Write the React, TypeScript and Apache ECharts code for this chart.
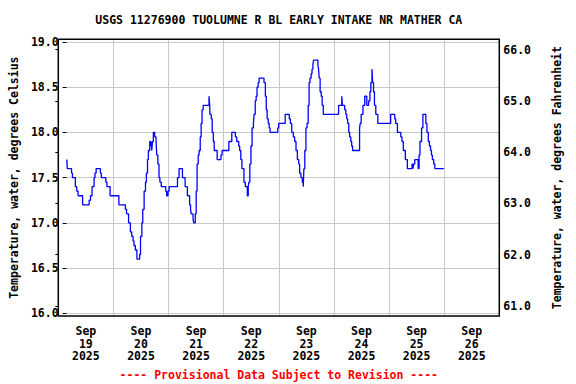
import React, { useEffect, useRef } from "react";
import * as echarts from "echarts";

// Hours since Sep 19 2025 00:00 at which the reading changes, and the reading (deg C)
const hours = [
  0.1, 0.3, 2.2, 2.6, 3.9, 4.5, 5.1, 7.1, 10.0, 10.6, 11.3, 12.2, 12.6, 13.1, 15.0, 15.4, 17.4, 17.9, 19.3, 23.2,
  26.1, 26.6, 27.5, 28.3, 28.9, 29.5, 29.9, 30.5, 31.2, 32.4, 32.8, 33.4, 33.8, 34.4, 35.0, 35.4, 35.9, 36.3, 36.9,
  37.3, 37.5, 37.8, 38.1, 38.5, 39.1, 39.7, 40.0, 40.5, 41.0, 41.4, 42.0, 44.0, 44.4, 45.0, 45.5, 49.2, 49.9, 51.4,
  52.6, 53.6, 54.6, 55.0, 55.3, 56.1, 56.4, 57.1, 57.5, 57.9, 58.4, 58.8, 59.3, 59.7, 60.1, 60.6, 63.2, 63.5, 63.6,
  64.2, 64.6, 65.1, 65.5, 66.8, 68.5, 69.0, 72.0, 73.3, 74.9, 75.5, 76.4, 76.8, 77.3, 77.8, 78.7, 79.3, 80.2, 80.6,
  80.9, 81.3, 81.8, 82.3, 82.9, 83.2, 83.7, 84.1, 84.5, 85.0, 85.4, 87.6, 88.2, 88.6, 89.0, 89.5, 89.9, 90.3, 93.7,
  94.1, 97.0, 98.8, 99.3, 99.9, 100.6, 101.2, 101.8, 102.4, 103.0, 103.4, 104.0, 104.6, 105.0, 105.3, 105.7, 106.2,
  106.7, 107.2, 107.6, 108.0, 108.5, 108.9, 109.3, 109.6, 111.5, 111.8, 112.1, 112.5, 113.0, 113.4, 113.9, 120.7,
  122.1, 122.4, 123.4, 123.9, 124.3, 124.7, 125.2, 125.6, 126.1, 126.5, 126.9, 130.0, 130.3, 130.7, 131.5, 132.3,
  133.2, 134.0, 134.6, 135.0, 135.5, 135.8, 136.2, 136.6, 137.2, 138.1, 143.8, 145.6, 146.0, 146.8, 148.3, 148.8,
  149.4, 150.3, 151.2, 153.3, 153.7, 154.0, 154.5, 156.0, 156.4, 156.8, 157.5, 158.1, 159.4, 159.9, 160.5, 161.0,
  161.5, 161.9, 162.3, 162.9, 163.4, 167.4,
];
const tempsC = [
  17.7, 17.6, 17.55, 17.5, 17.4, 17.35, 17.3, 17.2, 17.25, 17.3, 17.4, 17.5, 17.55, 17.6, 17.55, 17.5, 17.45, 17.4, 17.3, 17.2,
  17.15, 17.1, 17.0, 16.9, 16.85, 16.8, 16.75, 16.7, 16.6, 16.65, 16.85, 17.0, 17.15, 17.35, 17.45, 17.55, 17.7, 17.8, 17.9,
  17.85, 17.9, 17.8, 17.9, 18.0, 17.95, 17.9, 17.75, 17.65, 17.5, 17.45, 17.4, 17.35, 17.3, 17.35, 17.4, 17.5, 17.6, 17.5,
  17.4, 17.3, 17.2, 17.15, 17.1, 17.05, 17.0, 17.1, 17.35, 17.65, 17.75, 17.8, 17.95, 18.1, 18.25, 18.3, 18.4, 18.3, 18.2,
  18.15, 18.0, 17.9, 17.8, 17.7, 17.75, 17.8, 17.9, 18.0, 17.95, 17.9, 17.85, 17.8, 17.7, 17.6, 17.45, 17.4, 17.3, 17.4,
  17.45, 17.65, 17.85, 18.05, 18.1, 18.2, 18.35, 18.4, 18.5, 18.55, 18.6, 18.55, 18.4, 18.25, 18.15, 18.1, 18.05, 18.0, 18.05,
  18.1, 18.2, 18.15, 18.1, 18.0, 17.95, 17.9, 17.8, 17.7, 17.65, 17.55, 17.5, 17.45, 17.4, 17.6, 17.8, 18.05,
  18.1, 18.3, 18.55, 18.6, 18.65, 18.7, 18.75, 18.8, 18.75, 18.7, 18.6, 18.45, 18.4, 18.3, 18.2, 18.3,
  18.4, 18.3, 18.25, 18.2, 18.15, 18.1, 18.0, 17.95, 17.9, 17.85, 17.8, 18.05, 18.1, 18.2, 18.3, 18.4,
  18.3, 18.35, 18.45, 18.55, 18.7, 18.55, 18.45, 18.3, 18.2, 18.1, 18.2, 18.15, 18.1, 18.0, 17.95, 17.9,
  17.8, 17.7, 17.6, 17.65, 17.6, 17.65, 17.7, 17.6, 17.75, 17.9, 18.05, 18.2, 18.1, 18.0, 17.9, 17.85,
  17.8, 17.75, 17.7, 17.65, 17.6, 17.6,
];
const dayLabels = [
  "Sep\n19\n2025", "Sep\n20\n2025", "Sep\n21\n2025", "Sep\n22\n2025",
  "Sep\n23\n2025", "Sep\n24\n2025", "Sep\n25\n2025", "Sep\n26\n2025",
];
const titleText = "USGS 11276900 TUOLUMNE R BL EARLY INTAKE NR MATHER CA";
const footerText = "---- Provisional Data Subject to Revision ----";
const leftName = "Temperature, water, degrees Celsius";
const rightName = "Temperature, water, degrees Fahrenheit";

export default function App() {
  const ref = useRef<HTMLDivElement>(null);
  useEffect(() => {
    const chart = echarts.init(ref.current as HTMLDivElement, null, { renderer: "svg" });
    const font = "'DejaVu Sans Mono', monospace";
    const X0 = 58.3, X1 = 499.3, FT = 39.3, FB = 316, GT = 42, GB = 313.3;
    const W = 576, H = 384;
    const txt = { fontFamily: font, fontWeight: "bold" as const, fontSize: 11.5, color: "#000" };
    const data = hours.map((h, i) => [h, tempsC[i]]);
    chart.setOption({
      animation: false,
      grid: [
        { left: X0, right: W - X1, top: GT, bottom: H - GB, show: false },
        { left: X0, right: W - X1, top: FT, bottom: H - FB, show: true, borderColor: "#000", borderWidth: 1.5, backgroundColor: "transparent", z: 5 },
      ],
      xAxis: [
        { type: "value", gridIndex: 0, min: 0, max: 192, show: false },
        {
          type: "value", gridIndex: 1, min: 0, max: 192, interval: 24, position: "top",
          axisLine: { show: false }, axisTick: { show: false }, axisLabel: { show: false },
          splitLine: { show: true, lineStyle: { color: "#c8c8c8", width: 1 } },
        },
        {
          type: "category", gridIndex: 1, position: "bottom", data: dayLabels, boundaryGap: true,
          axisLine: { show: false }, axisTick: { show: false }, splitLine: { show: false },
          axisLabel: { ...txt, interval: 0, margin: 9, lineHeight: 12.5 },
        },
      ],
      yAxis: [
        {
          type: "value", gridIndex: 0, min: 16, max: 19, interval: 0.5, position: "left",
          name: leftName, nameLocation: "middle", nameRotate: 90, nameGap: 38, nameTextStyle: { ...txt },
          axisLine: { show: false },
          axisTick: { show: true, inside: false, length: 4, lineStyle: { color: "#000", width: 1 } },
          axisLabel: { ...txt, margin: 8, formatter: (v: number) => v.toFixed(1) },
          splitLine: { show: true, lineStyle: { color: "#c8c8c8", width: 1 } },
        },
        {
          type: "value", gridIndex: 1, min: 60.8, max: 66.2, position: "right",
          name: rightName, nameLocation: "middle", nameRotate: 90, nameGap: 52, nameTextStyle: { ...txt },
          axisLine: { show: false },
          axisTick: { show: true, inside: true, length: 3, lineStyle: { color: "#000", width: 1 } },
          axisLabel: {
            ...txt, margin: 4, showMinLabel: false, showMaxLabel: false,
            formatter: (v: number) => (Math.abs(v - Math.round(v)) < 1e-6 ? v.toFixed(1) : ""),
          },
          splitLine: { show: false },
        },
      ],
      series: [
        {
          type: "line", xAxisIndex: 0, yAxisIndex: 0, data, step: "end", symbol: "none",
          lineStyle: { color: "#0000ff", width: 1.3 }, z: 3,
        },
      ],
      graphic: [
        { type: "text", x: (X0 + X1) / 2, y: 19.5, style: { text: titleText, fill: "#000", textAlign: "center", textVerticalAlign: "middle", font: `bold 11.5px ${font}` } },
        { type: "text", x: (X0 + X1) / 2, y: 375, style: { text: footerText, fill: "#ff0000", textAlign: "center", textVerticalAlign: "middle", font: `bold 11.5px ${font}` } },
      ],
    });
    return () => chart.dispose();
  }, []);
  return <div ref={ref} style={{ position: "absolute", left: 0, top: 0, width: 576, height: 384 }} />;
}
